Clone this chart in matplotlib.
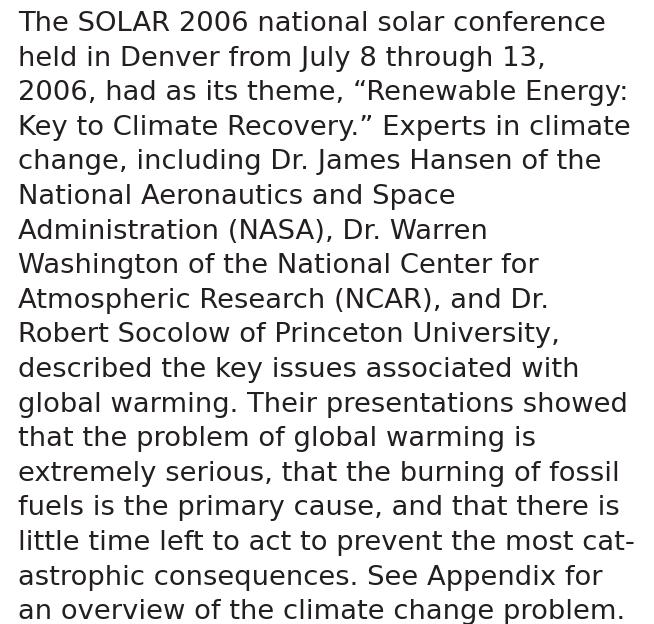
import matplotlib.pyplot as plt

# 段落文本，每行一项
lines = [
    "The SOLAR 2006 national solar conference",
    "held in Denver from July 8 through 13,",
    "2006, had as its theme, \u201cRenewable Energy:",
    "Key to Climate Recovery.\u201d Experts in climate",
    "change, including Dr. James Hansen of the",
    "National Aeronautics and Space",
    "Administration (NASA), Dr. Warren",
    "Washington of the National Center for",
    "Atmospheric Research (NCAR), and Dr.",
    "Robert Socolow of Princeton University,",
    "described the key issues associated with",
    "global warming. Their presentations showed",
    "that the problem of global warming is",
    "extremely serious, that the burning of fossil",
    "fuels is the primary cause, and that there is",
    "little time left to act to prevent the most cat-",
    "astrophic consequences. See Appendix for",
    "an overview of the climate change problem.",
]

W, H = 654, 624
fig = plt.figure(figsize=(W / 100, H / 100), dpi=100)
fig.patch.set_facecolor('white')

x0 = 18
y0 = 31
step = 34.6
for i, s in enumerate(lines):
    y = y0 + i * step
    fig.text(x0 / W, 1 - y / H, s, fontsize=19.7, color='#231f20',
             family='DejaVu Sans', va='baseline', ha='left')

plt.savefig('out.png', dpi=100)
